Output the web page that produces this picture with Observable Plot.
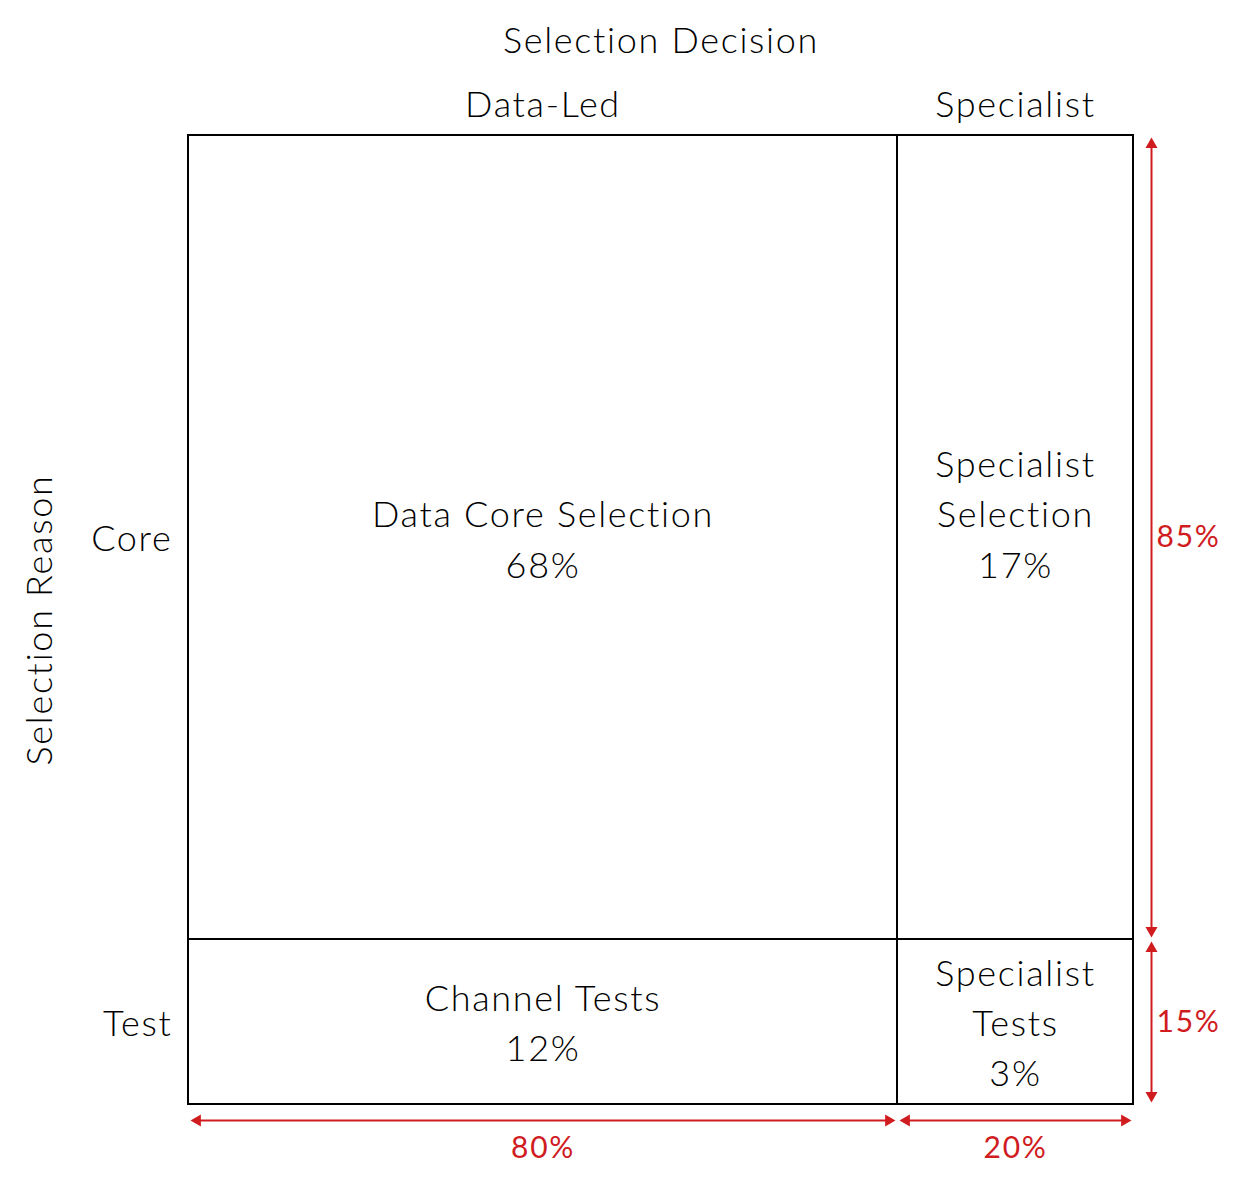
<!DOCTYPE html>
<html>
<head>
<meta charset="utf-8">
<script src="https://cdn.jsdelivr.net/npm/d3@7"></script>
<script src="https://cdn.jsdelivr.net/npm/@observablehq/plot@0.6"></script>
<style>
  html, body { margin: 0; padding: 0; background: #fff; }
  #chart svg { display: block; }
</style>
</head>
<body>
<div id="chart"></div>
<script>
// ---- data ----
const columns = ["Data-Led", "Specialist"];
const rows = ["Core", "Test"];
const columnShares = [80, 20];   // % of selections by decision
const rowShares = [85, 15];      // % of selections by reason
const cellNames = [["Data Core Selection", "Specialist\nSelection"], ["Channel Tests", "Specialist\nTests"]];
const cellValues = [[68, 17], [12, 3]];
const title = "Selection Decision";
const yTitle = "Selection Reason";

// ---- derived tables ----
const colStart = d3.cumsum([0, ...columnShares]);
const rowStart = d3.cumsum([0, ...rowShares]);
const cells = [];
rows.forEach((r, i) => columns.forEach((c, j) => cells.push({
  row: r, col: c,
  x1: colStart[j], x2: colStart[j + 1],
  y1: rowStart[i], y2: rowStart[i + 1],
  label: `${cellNames[i][j]}\n${cellValues[i][j]}%`
})));
const colSegs = columns.map((c, j) => ({name: c, share: columnShares[j], x1: colStart[j], x2: colStart[j + 1], y: 100}));
const rowSegs = rows.map((r, i) => ({name: r, share: rowShares[i], y1: rowStart[i], y2: rowStart[i + 1], x: 100}));

const red = "#d01c1f";
const font = "Lato, 'Open Sans', sans-serif";
const fw = 300;
const tipOff = 2 + 6.93; // inset + centroid-to-tip distance of triangle head

const chart = Plot.plot({
  width: 1252,
  height: 1187,
  marginLeft: 188, marginRight: 119, marginTop: 135, marginBottom: 83,
  style: {fontFamily: font, background: "white", letterSpacing: "1.7px"},
  x: {type: "linear", domain: [0, colStart[1], 100], range: [188, 897, 1133], axis: null},
  y: {type: "linear", domain: [0, rowStart[1], 100], range: [135, 939, 1104], axis: null},
  marks: [
    Plot.rect(cells, {x1: "x1", x2: "x2", y1: "y1", y2: "y2", fill: "white", stroke: "black", strokeWidth: 2}),
    // cell labels: core row anchored on bottom line, test row centered
    Plot.text(cells.filter(d => d.row === rows[0]), {
      x: d => (d.x1 + d.x2) / 2, y: d => (d.y1 + d.y2) / 2, text: "label",
      lineAnchor: "bottom", dy: 40, lineHeight: 1.39, fontSize: 36, fontWeight: fw, fill: "black", fontFamily: font
    }),
    Plot.text(cells.filter(d => d.row === rows[1]), {
      x: d => (d.x1 + d.x2) / 2, y: d => (d.y1 + d.y2) / 2, text: "label",
      lineAnchor: "middle", dy: -2, lineHeight: 1.39, fontSize: 36, fontWeight: fw, fill: "black", fontFamily: font
    }),
    // column headers
    Plot.text(colSegs, {x: d => (d.x1 + d.x2) / 2, y: d => 0, text: "name", dy: -30, fontSize: 36, fontWeight: fw, fill: "black", fontFamily: font}),
    // row headers
    Plot.text(rowSegs, {x: d => 0, y: d => (d.y1 + d.y2) / 2, text: "name", dx: -16, dy: 2, textAnchor: "end", fontSize: 36, fontWeight: fw, fill: "black", fontFamily: font}),
    // titles
    Plot.text([title], {frameAnchor: "top", text: d => d, dy: -108, fontSize: 36, fontWeight: fw, fill: "black", fontFamily: font}),
    Plot.text([yTitle], {frameAnchor: "left", textAnchor: "middle", text: d => d, dx: -148, rotate: -90, fontSize: 36, fontWeight: fw, fill: "black", fontFamily: font}),
    // bottom arrows (column shares)
    Plot.ruleY(colSegs, {y: "y", x1: "x1", x2: "x2", dy: 16, insetLeft: 6, insetRight: 6, stroke: red, strokeWidth: 2}),
    Plot.dot(colSegs, {x: "x1", y: "y", dy: 16, dx: tipOff, symbol: "triangle", r: 4.46, rotate: -90, fill: red, stroke: null}),
    Plot.dot(colSegs, {x: "x2", y: "y", dy: 16, dx: -tipOff, symbol: "triangle", r: 4.46, rotate: 90, fill: red, stroke: null}),
    Plot.text(colSegs, {x: d => (d.x1 + d.x2) / 2, y: "y", dy: 44, text: d => `${d.share}%`, fontSize: 30, fontWeight: 400, fill: red, fontFamily: font}),
    // right arrows (row shares)
    Plot.ruleX(rowSegs, {x: "x", y1: "y1", y2: "y2", dx: 18, insetTop: 6, insetBottom: 6, stroke: red, strokeWidth: 2}),
    Plot.dot(rowSegs, {x: "x", y: "y1", dx: 18, dy: tipOff, symbol: "triangle", r: 4.46, rotate: 0, fill: red, stroke: null}),
    Plot.dot(rowSegs, {x: "x", y: "y2", dx: 18, dy: -tipOff, symbol: "triangle", r: 4.46, rotate: 180, fill: red, stroke: null}),
    Plot.text(rowSegs, {x: "x", y: d => (d.y1 + d.y2) / 2, dx: 55, text: d => `${d.share}%`, fontSize: 30, fontWeight: 400, fill: red, fontFamily: font})
  ]
});
document.getElementById("chart").appendChild(chart);
</script>
</body>
</html>
